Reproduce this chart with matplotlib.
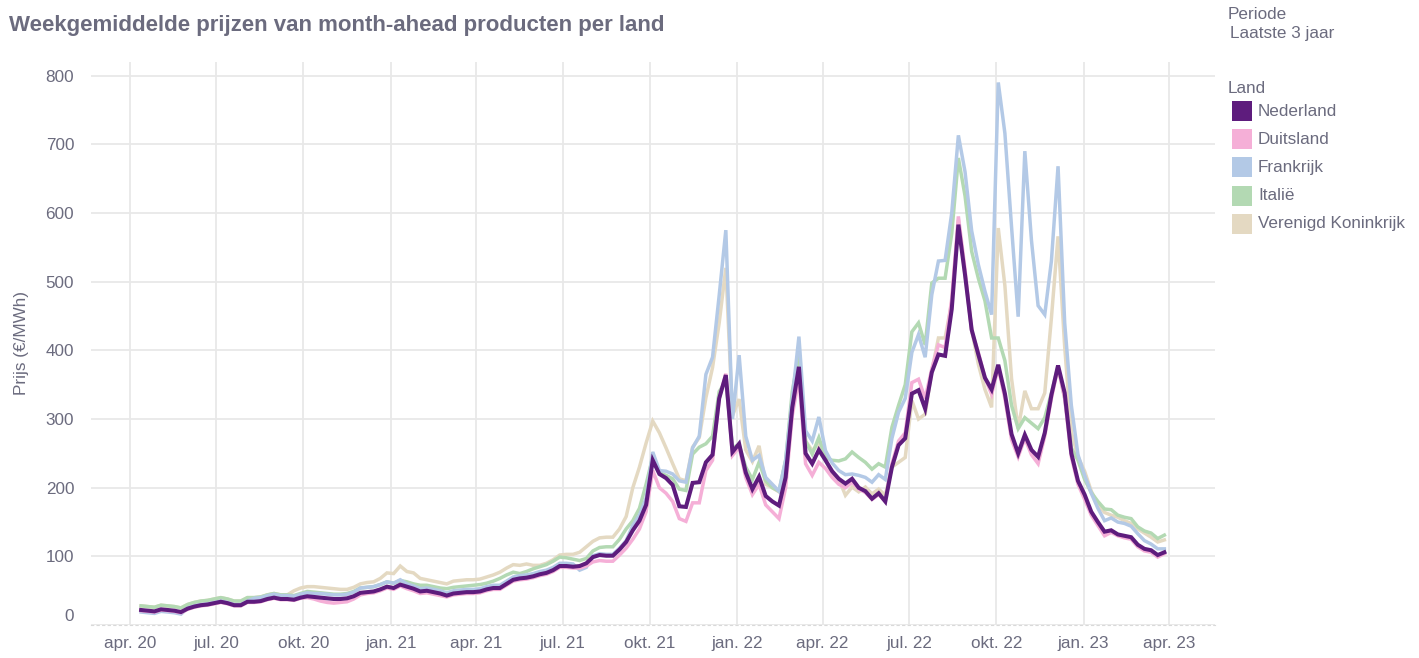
import numpy as np
import pandas as pd
import matplotlib
matplotlib.use("Agg")
import matplotlib.pyplot as plt
import matplotlib.dates as mdates
from matplotlib.patches import Rectangle
from matplotlib.transforms import ScaledTranslation

plt.rcParams['font.family'] = ['Liberation Sans', 'DejaVu Sans']

# weekgemiddelden, week 0 = 13 april 2020
weeks = pd.date_range('2020-04-13', periods=155, freq='7D')

nederland = [22, 21, 20, 23, 22, 21, 19, 24, 27, 29, 30, 32, 34, 32, 29, 29, 34, 34, 35, 38,
             40, 38, 38, 37, 40, 42, 41, 40, 39, 38, 38, 39, 42, 47, 48, 49, 52, 56, 54, 59,
             56, 53, 49, 50, 48, 46, 43, 46, 47, 48, 48, 49, 52, 54, 54, 60, 66, 68, 69, 71,
             74, 76, 80, 86, 86, 85, 86, 90, 99, 102, 101, 101, 110, 121, 138, 152, 175, 240, 220, 214,
             204, 173, 172, 207, 208, 237, 248, 330, 364, 252, 264, 222, 198, 216, 188, 180, 174, 215, 317, 376,
             250, 235, 255, 240, 224, 213, 206, 213, 200, 195, 184, 192, 180, 230, 262, 272, 337, 342, 315, 368,
             394, 392, 460, 583, 510, 430, 394, 360, 343, 379, 337, 278, 250, 277, 255, 245, 280, 335, 378, 338,
             250, 210, 190, 165, 150, 136, 138, 132, 130, 128, 117, 111, 109, 102, 106]

duitsland = [21, 20, 19, 22, 21, 20, 18, 23, 26, 28, 29, 31, 33, 31, 28, 28, 33, 33, 34, 37,
             39, 37, 37, 36, 39, 40, 38, 35, 33, 32, 33, 34, 38, 44, 46, 47, 50, 54, 52, 57,
             53, 50, 46, 47, 45, 43, 41, 44, 45, 46, 46, 47, 50, 52, 52, 58, 64, 66, 67, 69,
             72, 74, 78, 84, 84, 83, 83, 86, 92, 94, 93, 93, 102, 112, 125, 140, 165, 225, 200, 192,
             180, 155, 151, 178, 178, 225, 240, 330, 366, 247, 259, 215, 190, 205, 175, 165, 155, 200, 305, 360,
             235, 218, 237, 228, 215, 205, 200, 208, 198, 193, 183, 190, 180, 235, 268, 280, 353, 358, 330, 373,
             408, 404, 475, 595, 518, 428, 397, 360, 336, 375, 330, 270, 245, 272, 248, 235, 275, 330, 375, 330,
             245, 205, 183, 160, 145, 130, 135, 130, 127, 125, 114, 108, 106, 99, 104]

frankrijk = [19, 18, 17, 20, 19, 18, 16, 25, 28, 30, 31, 33, 35, 33, 30, 30, 35, 39, 40, 43,
             45, 43, 43, 42, 45, 47, 46, 46, 45, 44, 44, 45, 48, 54, 55, 56, 59, 63, 61, 66,
             60, 57, 53, 54, 52, 50, 47, 50, 51, 52, 52, 53, 56, 58, 58, 64, 70, 72, 73, 75,
             78, 80, 84, 90, 90, 89, 80, 84, 101, 104, 103, 103, 112, 123, 145, 160, 185, 252, 225, 224,
             220, 210, 208, 258, 275, 365, 390, 480, 575, 300, 393, 275, 240, 247, 215, 205, 195, 240, 330, 420,
             283, 268, 303, 254, 236, 225, 219, 220, 218, 215, 208, 219, 212, 272, 310, 330, 397, 423, 390, 481,
             530, 531, 600, 713, 660, 574, 525, 486, 452, 790, 716, 580, 449, 690, 560, 465, 452, 530, 668, 440,
             320, 248, 218, 192, 170, 152, 156, 150, 148, 144, 133, 123, 118, 111, 111]

italie = [28, 27, 26, 29, 28, 27, 25, 30, 33, 35, 36, 38, 40, 38, 35, 35, 40, 40, 41, 44,
          46, 44, 44, 43, 46, 49, 48, 47, 46, 45, 45, 46, 49, 54, 55, 56, 59, 63, 61, 65,
          63, 60, 58, 58, 56, 54, 53, 55, 56, 57, 58, 59, 61, 64, 68, 73, 77, 75, 78, 82,
          85, 88, 93, 99, 98, 96, 94, 97, 108, 113, 114, 114, 125, 140, 152, 170, 205, 245, 222, 218,
          213, 198, 196, 249, 259, 264, 275, 340, 355, 259, 262, 230, 212, 237, 210, 200, 195, 240, 340, 395,
          268, 249, 273, 244, 240, 239, 242, 252, 244, 237, 227, 235, 230, 288, 320, 350, 427, 440, 408, 498,
          505, 505, 570, 680, 625, 544, 505, 472, 418, 418, 385, 320, 286, 302, 294, 286, 302, 338, 377, 330,
          258, 240, 212, 193, 180, 169, 168, 160, 157, 155, 143, 137, 134, 126, 131]

verenigd_koninkrijk = [28, 27, 26, 29, 28, 27, 25, 30, 33, 35, 36, 38, 40, 38, 35, 35, 40, 40, 41, 44,
                       46, 44, 44, 50, 54, 56, 56, 55, 54, 53, 52, 52, 55, 60, 62, 63, 68, 76, 75, 86,
                       78, 76, 68, 66, 64, 62, 60, 64, 65, 66, 66, 67, 70, 73, 77, 83, 88, 87, 89, 87,
                       87, 90, 95, 102, 103, 103, 106, 114, 122, 127, 128, 128, 140, 158, 200, 230, 265, 297, 280, 258,
                       235, 213, 210, 259, 273, 331, 375, 440, 520, 305, 329, 255, 238, 261, 205, 200, 194, 225, 320, 385,
                       268, 254, 264, 240, 220, 213, 189, 201, 194, 201, 191, 198, 189, 230, 237, 244, 327, 300, 307, 370,
                       418, 418, 470, 590, 510, 430, 380, 343, 317, 578, 494, 359, 286, 341, 315, 315, 338, 447, 566, 405,
                       281, 245, 224, 195, 175, 164, 160, 157, 152, 148, 140, 134, 128, 121, 124]

landen = ['Nederland', 'Duitsland', 'Frankrijk', 'Italië', 'Verenigd Koninkrijk']
kleuren = ['#5e1c7d', '#f5afd7', '#b3c9e6', '#b3d9b3', '#e4d9c2']
reeksen = [nederland, duitsland, frankrijk, italie, verenigd_koninkrijk]

maanden = {1: 'jan.', 4: 'apr.', 7: 'jul.', 10: 'okt.'}
tekst = '#6b6b7e'
fs = 12.3

fig = plt.figure(figsize=(14.19, 6.58), dpi=100)
ax = fig.add_axes([0.064, 0.05, 0.792, 0.856])

# tekenvolgorde: Nederland bovenop
for naam, kleur, waarden in list(zip(landen, kleuren, reeksen))[::-1]:
    lw = 2.9 if naam == 'Nederland' else 2.5
    ax.plot(weeks, waarden, color=kleur, lw=lw, solid_joinstyle='miter', label=naam)

ax.set_ylim(0, 820)
ax.set_xlim(pd.Timestamp('2020-02-20'), pd.Timestamp('2023-05-19'))
ax.set_yticks(np.arange(0, 801, 100))
ax.xaxis.set_major_locator(mdates.MonthLocator(bymonth=[1, 4, 7, 10]))
ax.xaxis.set_major_formatter(plt.FuncFormatter(
    lambda x, pos: '%s %s' % (maanden[mdates.num2date(x).month], mdates.num2date(x).strftime('%y'))))

ax.grid(True, color='#e8e8e8', lw=1.3)
ax.set_axisbelow(True)
for s in ['top', 'right', 'left']:
    ax.spines[s].set_visible(False)
ax.spines['bottom'].set_color('#d9d9d9')
ax.spines['bottom'].set_linestyle((0, (2, 3)))
ax.tick_params(axis='both', length=0, labelsize=fs, labelcolor=tekst)
ax.tick_params(axis='y', pad=12)
ax.tick_params(axis='x', pad=8)
ax.set_ylabel('Prijs (€/MWh)', fontsize=fs, color=tekst, labelpad=12)

# het nul-label staat iets hoger dan de as
fig.canvas.draw()
nul = ax.yaxis.get_major_ticks()[0].label1
nul.set_transform(nul.get_transform() + ScaledTranslation(0, 0.1, fig.dpi_scale_trans))

fig.text(0.006, 0.962, 'Weekgemiddelde prijzen van month-ahead producten per land',
         fontsize=16, fontweight='bold', color=tekst, va='center')

# filter en legenda rechts
fig.text(0.865, 0.978, 'Periode', fontsize=fs, color=tekst, va='center')
fig.text(0.867, 0.949, 'Laatste 3 jaar', fontsize=fs, color=tekst, va='center')
fig.text(0.865, 0.865, 'Land', fontsize=fs, color=tekst, va='center')
for k, (naam, kleur) in enumerate(zip(landen, kleuren)):
    yc = 1 - (111 + 28.2 * k) / 658
    fig.add_artist(Rectangle((1232 / 1419, yc - 10 / 658), 20 / 1419, 20 / 658,
                             transform=fig.transFigure, color=kleur, lw=0))
    fig.text(1258 / 1419, yc, naam, fontsize=fs, color=tekst, va='center')

plt.savefig('out.png', dpi=100)
